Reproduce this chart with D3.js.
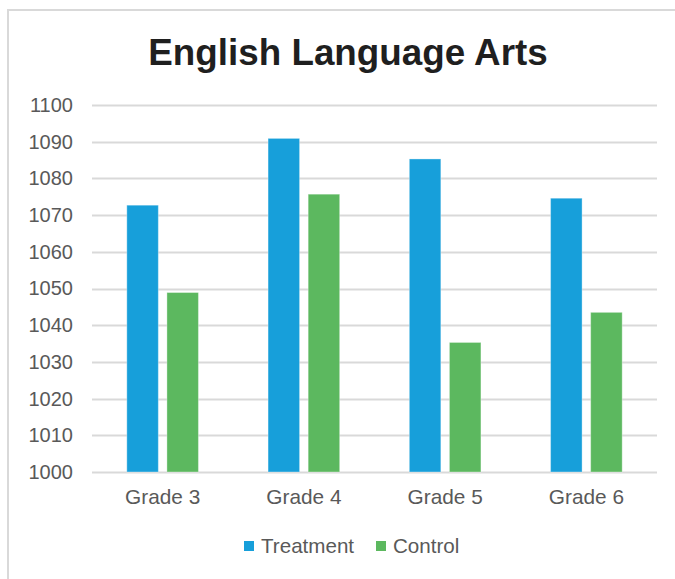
<!DOCTYPE html>
<html>
<head>
<meta charset="utf-8">
<script src="https://cdn.jsdelivr.net/npm/d3@7"></script>
<style>
  html, body { margin: 0; padding: 0; background: #fff; }
  svg { display: block; font-family: "Liberation Sans", Arial, sans-serif; }
</style>
</head>
<body>
<svg id="chart" width="675" height="579"></svg>
<script>
// Mean scale scores by grade
const grades = ["Grade 3", "Grade 4", "Grade 5", "Grade 6"];
const treatment = [1072.7, 1090.9, 1085.3, 1074.6];
const control = [1048.9, 1075.7, 1035.3, 1043.5];
const seriesNames = ["Treatment", "Control"];
const seriesColors = ["#179fda", "#5cb85f"];
const yTicks = [1000, 1010, 1020, 1030, 1040, 1050, 1060, 1070, 1080, 1090, 1100];

const svg = d3.select("#chart");
const W = 675, H = 579;
const margin = { top: 105, right: 18, bottom: 107, left: 92 };
const plotW = W - margin.left - margin.right;
const plotH = H - margin.top - margin.bottom;
const labelColor = "#595959";

// Outer frame
svg.append("rect")
  .attr("x", 8).attr("y", 10)
  .attr("width", W).attr("height", H)
  .attr("fill", "#fff")
  .attr("stroke", "#d9d9d9").attr("stroke-width", 2);

// Title
svg.append("text")
  .attr("x", 348).attr("y", 65)
  .attr("text-anchor", "middle")
  .attr("font-size", 36.8).attr("font-weight", "bold")
  .attr("fill", "#1f1f1f")
  .text("English Language Arts");

const g = svg.append("g").attr("transform", `translate(${margin.left},${margin.top})`);

const x0 = d3.scaleBand().domain(grades).range([0, plotW]).paddingInner(0.493).paddingOuter(0.2465);
const x1 = d3.scaleBand().domain(seriesNames).range([0, x0.bandwidth()]).paddingInner(0.214);
const y = d3.scaleLinear().domain([1000, 1100]).range([plotH, 0]);

// Gridlines
g.append("g")
  .selectAll("line")
  .data(yTicks)
  .join("line")
  .attr("x1", 0).attr("x2", plotW)
  .attr("y1", d => Math.round(y(d)) + 0.5).attr("y2", d => Math.round(y(d)) + 0.5)
  .attr("stroke", "#d9d9d9").attr("stroke-width", 2);

// Y axis labels
const yAxis = g.append("g")
  .call(d3.axisLeft(y).tickValues(yTicks).tickFormat(d3.format("d")).tickSize(0).tickPadding(19));
yAxis.select(".domain").remove();
yAxis.selectAll("text")
  .attr("font-size", 20).attr("fill", labelColor)
  .attr("font-family", "Liberation Sans, Arial, sans-serif");

// Bars
const rows = grades.map((grade, i) => ({ grade, values: [treatment[i], control[i]] }));
const groups = g.append("g").selectAll("g")
  .data(rows)
  .join("g")
  .attr("transform", d => `translate(${x0(d.grade)},0)`);

groups.selectAll("rect")
  .data(d => d.values.map((v, j) => ({ key: seriesNames[j], value: v, color: seriesColors[j] })))
  .join("rect")
  .attr("x", d => x1(d.key))
  .attr("width", x1.bandwidth())
  .attr("y", d => y(d.value))
  .attr("height", d => y(1000) - y(d.value))
  .attr("fill", d => d.color)
  .attr("stroke", "#ffffff").attr("stroke-opacity", 0.35).attr("stroke-width", 1);

// X axis labels
const xAxis = g.append("g")
  .attr("transform", `translate(0,${plotH})`)
  .call(d3.axisBottom(x0).tickSize(0).tickPadding(17));
xAxis.select(".domain").remove();
xAxis.selectAll("text")
  .attr("font-size", 20.8).attr("fill", labelColor)
  .attr("font-family", "Liberation Sans, Arial, sans-serif");

// Legend
const legend = svg.append("g").attr("transform", "translate(244,546)");
const legendX = [0, 132];
seriesNames.forEach((name, i) => {
  const item = legend.append("g").attr("transform", `translate(${legendX[i]},0)`);
  item.append("rect")
    .attr("x", 0).attr("y", -5).attr("width", 10).attr("height", 10)
    .attr("fill", seriesColors[i]);
  item.append("text")
    .attr("x", 17).attr("y", 0).attr("dy", "0.35em")
    .attr("font-size", 20.6).attr("fill", labelColor)
    .text(name);
});
</script>
</body>
</html>
